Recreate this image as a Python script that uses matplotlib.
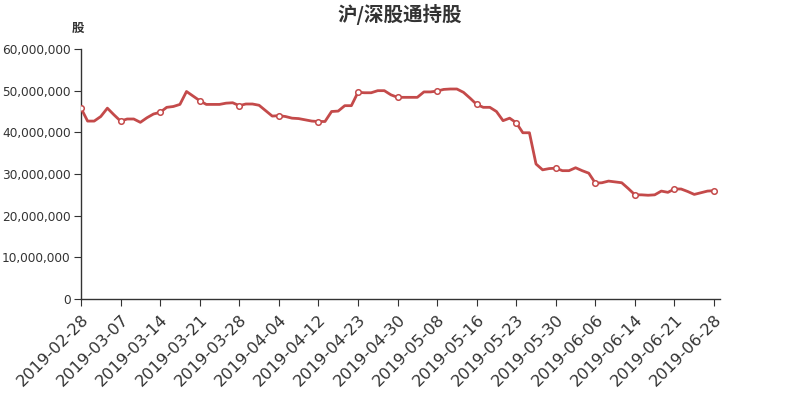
import numpy as np
import matplotlib.pyplot as plt
from matplotlib.ticker import FuncFormatter

plt.rcParams['font.family'] = ['DejaVu Sans', 'Noto Sans CJK SC']

# --- Data (shares held) ---
tick_labels = ['2019-02-28', '2019-03-07', '2019-03-14', '2019-03-21', '2019-03-28',
               '2019-04-04', '2019-04-12', '2019-04-23', '2019-04-30', '2019-05-08',
               '2019-05-16', '2019-05-23', '2019-05-30', '2019-06-06', '2019-06-14',
               '2019-06-21', '2019-06-28']
label_step = 6

holdings_m = [45.8, 42.7, 42.7, 43.8, 45.8, 44.2, 42.7, 43.2, 43.2, 42.4,
              43.5, 44.4, 44.8, 46.0, 46.2, 46.7, 49.8, 48.7, 47.6, 46.7,
              46.7, 46.7, 47.0, 47.1, 46.4, 46.8, 46.8, 46.5, 45.2, 43.9,
              44.0, 43.8, 43.4, 43.3, 43.0, 42.7, 42.6, 42.6, 45.0, 45.1,
              46.4, 46.4, 49.6, 49.5, 49.5, 50.0, 50.0, 49.0, 48.4, 48.4,
              48.4, 48.4, 49.7, 49.7, 49.9, 50.3, 50.4, 50.4, 49.6, 48.2,
              46.7, 46.0, 46.0, 45.0, 42.8, 43.4, 42.3, 39.9, 39.9, 32.4,
              31.0, 31.3, 31.4, 30.8, 30.8, 31.5, 30.8, 30.2, 27.8, 27.9,
              28.3, 28.1, 27.9, 26.5, 25.0, 25.0, 24.9, 25.0, 25.9, 25.6,
              26.4, 26.4, 25.8, 25.1, 25.5, 25.9, 26.0]
holdings = np.array(holdings_m) * 1e6
x = np.arange(len(holdings))

text_color = '#333333'
line_color = '#c44a4a'

fig = plt.figure(figsize=(8, 4), dpi=100)
ax = fig.add_axes([0.10125, 0.2525, 0.79875, 0.625])

ax.plot(x, holdings, color=line_color, lw=2, zorder=3)
ax.plot(x[::label_step], holdings[::label_step], 'o', ms=4, mfc='white',
        mec=line_color, mew=1.1, zorder=4)

ax.set_xlim(0, 96.9)
ax.set_ylim(0, 60e6)
ax.set_yticks(np.arange(0, 60e6 + 1, 10e6))
ax.yaxis.set_major_formatter(FuncFormatter(lambda v, p: f'{int(v):,}'))
ax.set_xticks(x[::label_step])
ax.set_xticklabels(tick_labels, rotation=45, ha='right', va='top',
                   rotation_mode='anchor', fontsize=11.7)

for s in ['top', 'right']:
    ax.spines[s].set_visible(False)
for s in ['left', 'bottom']:
    ax.spines[s].set_color(text_color)
    ax.spines[s].set_linewidth(1)
ax.tick_params(axis='y', labelsize=8.7, colors=text_color, length=5, pad=2.5)
ax.tick_params(axis='x', colors=text_color, length=5, pad=4)

fig.text(0.5, 0.965, '沪/深股通持股', ha='center', va='center', fontsize=14,
         fontweight='bold', color=text_color,
         family=['Noto Sans CJK SC', 'DejaVu Sans'])
fig.text(0.0975, 0.93, '股', ha='center', va='center', fontsize=9,
         fontweight='bold', color=text_color,
         family=['Noto Sans CJK SC', 'DejaVu Sans'])

fig.savefig('out.png', dpi=100)
